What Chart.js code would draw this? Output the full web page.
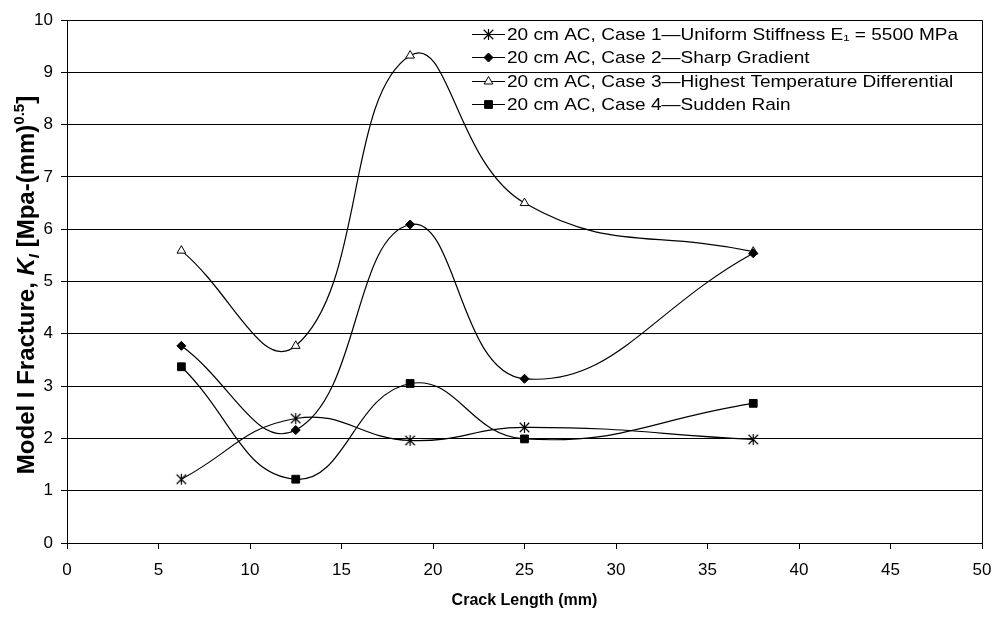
<!DOCTYPE html>
<html>
<head>
<meta charset="utf-8">
<script src="https://cdn.jsdelivr.net/npm/chart.js@4/dist/chart.umd.min.js"></script>
<style>
  html, body { margin: 0; padding: 0; background: #fff; }
  #wrap { width: 993px; height: 617px; position: relative; }
</style>
</head>
<body>
<div id="wrap"><canvas id="chart"></canvas></div>
<script>
// crack length (mm) and K_I values
const crackLength = [6.25, 12.5, 18.75, 25, 37.5];
const case1Uniform = [1.22, 2.38, 1.96, 2.21, 1.98];
const case2Sharp = [3.77, 2.16, 6.09, 3.14, 5.54];
const case3HighDiff = [5.59, 3.77, 9.32, 6.50, 5.57];
const case4Rain = [3.37, 1.22, 3.05, 1.99, 2.67];

const seriesLabels = [
  '20 cm AC, Case 1\u2014Uniform Stiffness E\u2081 = 5500 MPa',
  '20 cm AC, Case 2\u2014Sharp Gradient',
  '20 cm AC, Case 3\u2014Highest Temperature Differential',
  '20 cm AC, Case 4\u2014Sudden Rain',
];
const xTickRange = { min: 0, max: 50, step: 5 };
const yTickRange = { min: 0, max: 10, step: 1 };

const FONT = "'Liberation Sans', Arial, sans-serif";

// excel style asterisk marker (x plus vertical bar)
function asteriskMarker(size) {
  const c = document.createElement('canvas');
  c.width = size; c.height = size;
  const g = c.getContext('2d');
  const h = size / 2, r = size / 2 - 1;
  g.strokeStyle = '#000';
  g.lineWidth = 1.2;
  g.beginPath();
  g.moveTo(h - r * 0.87, h - r * 0.87); g.lineTo(h + r * 0.87, h + r * 0.87);
  g.moveTo(h + r * 0.87, h - r * 0.87); g.lineTo(h - r * 0.87, h + r * 0.87);
  g.moveTo(h, h - r); g.lineTo(h, h + r);
  g.stroke();
  return c;
}
const starImg = asteriskMarker(13);

function pts(ys) {
  return crackLength.map((x, i) => ({ x: x, y: ys[i] }));
}

const markerDefs = [
  { style: starImg, radius: 6, bg: '#000' },
  { style: 'rectRot', radius: 4.5, bg: '#000' },
  { style: 'triangle', radius: 5, bg: '#fff' },
  { style: 'rect', radius: 5.5, bg: '#000' },
];

const seriesData = [case1Uniform, case2Sharp, case3HighDiff, case4Rain];

const datasets = seriesData.map((ys, i) => ({
  label: seriesLabels[i],
  data: pts(ys),
  borderColor: '#000',
  borderWidth: 1.2,
  tension: 0.45,
  pointStyle: markerDefs[i].style,
  pointRadius: markerDefs[i].radius,
  pointBackgroundColor: markerDefs[i].bg,
  pointBorderColor: '#000',
  pointBorderWidth: 1,
  fill: false,
}));

// frame + axis titles + legend drawn onto the canvas
const decorations = {
  id: 'decorations',
  afterDraw(chart) {
    const ctx = chart.ctx;
    const a = chart.chartArea;
    ctx.save();
    ctx.strokeStyle = '#000';
    ctx.lineWidth = 1;
    ctx.beginPath();
    ctx.moveTo(Math.round(a.left) + 0.5, Math.round(a.top) + 0.5);
    ctx.lineTo(Math.round(a.right) + 0.5, Math.round(a.top) + 0.5);
    ctx.lineTo(Math.round(a.right) + 0.5, Math.round(a.bottom) + 0.5);
    ctx.stroke();

    // x title
    ctx.fillStyle = '#000';
    ctx.font = 'bold 16px ' + FONT;
    ctx.textAlign = 'center';
    ctx.textBaseline = 'middle';
    ctx.fillText('Crack Length (mm)', (a.left + a.right) / 2, 601);

    // y title with italic K, subscript I and superscript 0.5
    const big = 24, small = 15;
    const parts = [
      { t: 'Model I Fracture, ', f: 'bold ' + big + 'px ' + FONT, dy: 0 },
      { t: 'K', f: 'italic bold ' + big + 'px ' + FONT, dy: 0 },
      { t: 'I', f: 'italic bold ' + small + 'px ' + FONT, dy: 5 },
      { t: ' [Mpa-(mm)', f: 'bold ' + big + 'px ' + FONT, dy: 0 },
      { t: '0.5', f: 'bold ' + small + 'px ' + FONT, dy: -10 },
      { t: ']', f: 'bold ' + big + 'px ' + FONT, dy: 0 },
    ];
    let total = 0;
    parts.forEach(p => { ctx.font = p.f; p.w = ctx.measureText(p.t).width; total += p.w; });
    ctx.translate(34, 285);
    ctx.rotate(-Math.PI / 2);
    ctx.textAlign = 'left';
    ctx.textBaseline = 'alphabetic';
    let px = -total / 2;
    parts.forEach(p => { ctx.font = p.f; ctx.fillText(p.t, px, p.dy); px += p.w; });
    ctx.restore();

    // legend inside the plot, top right
    ctx.save();
    const rows = [34, 57, 81, 104];
    chart.data.datasets.forEach((ds, i) => {
      const y = rows[i];
      ctx.strokeStyle = '#000';
      ctx.lineWidth = 1.2;
      ctx.beginPath();
      ctx.moveTo(472, y + 0.5);
      ctx.lineTo(505, y + 0.5);
      ctx.stroke();
      ctx.fillStyle = ds.pointBackgroundColor;
      ctx.strokeStyle = '#000';
      ctx.lineWidth = 1;
      Chart.helpers.drawPoint(ctx, { pointStyle: ds.pointStyle, radius: ds.pointRadius, borderWidth: 1, rotation: 0 }, 488.5, y + 0.5);
      ctx.save();
      ctx.translate(507, y + 1);
      ctx.scale(1.12, 1);
      ctx.fillStyle = '#000';
      ctx.font = '17px ' + FONT;
      ctx.textAlign = 'left';
      ctx.textBaseline = 'middle';
      ctx.fillText(ds.label, 0, 0);
      ctx.restore();
    });
    ctx.restore();
  }
};

new Chart(document.getElementById('chart'), {
  type: 'line',
  data: { datasets: datasets },
  plugins: [decorations],
  options: {
    responsive: true,
    maintainAspectRatio: false,
    animation: false,
    layout: { padding: { top: 20, right: 11, left: 0, bottom: 0 } },
    plugins: {
      legend: { display: false },
      tooltip: { enabled: false },
    },
    scales: {
      x: {
        type: 'linear',
        min: xTickRange.min,
        max: xTickRange.max,
        ticks: { stepSize: xTickRange.step, color: '#000', font: { family: FONT, size: 17 }, padding: 11, maxRotation: 0 },
        grid: { drawOnChartArea: false, drawTicks: true, tickLength: 6, color: '#000' },
        border: { color: '#000', width: 1 },
        afterFit(s) { s.height = 74; s.paddingLeft = 0; s.paddingRight = 0; },
      },
      y: {
        min: yTickRange.min,
        max: yTickRange.max,
        ticks: { stepSize: yTickRange.step, color: '#000', font: { family: FONT, size: 17 }, padding: 8 },
        grid: { color: '#000', lineWidth: 1, tickLength: 6 },
        border: { color: '#000', width: 1 },
        afterFit(s) { s.width = 67; s.paddingTop = 0; s.paddingBottom = 0; },
      },
    },
  },
});
</script>
</body>
</html>
